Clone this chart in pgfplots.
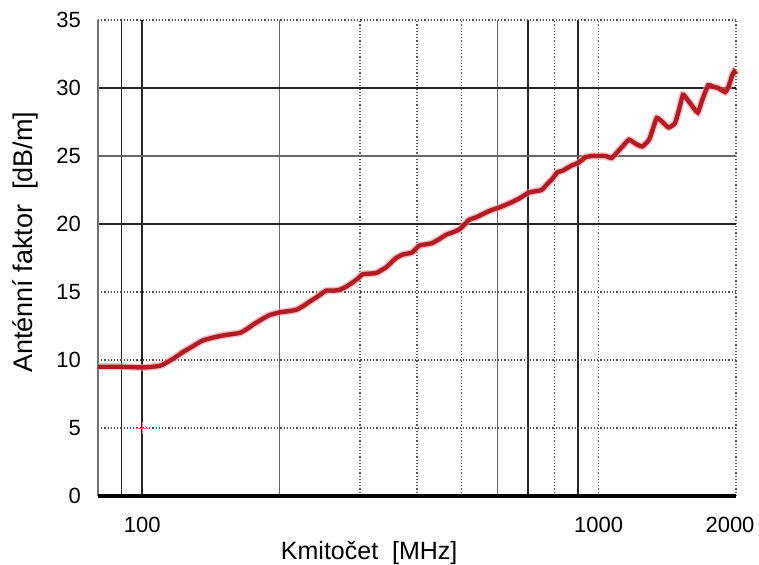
\documentclass[border=0pt]{standalone}
\usepackage{pgfplots}
\pgfplotsset{compat=1.18}
\usepackage{pgfplotstable}
\usepackage{fontspec}
\setmainfont{Liberation Sans}
\definecolor{curve}{RGB}{178,28,38}
\definecolor{glow}{RGB}{240,150,150}
\pgfplotstableread{
f v
80 9.5
90 9.5
100 9.45
105 9.5
110 9.6
117 10.1
123 10.6
129 11.0
135 11.4
141 11.6
150 11.8
157 11.9
164 12.0
170 12.3
175 12.6
183 13.0
190 13.3
200 13.5
210 13.6
218 13.7
226 14.0
233 14.3
243 14.7
253 15.1
262 15.1
270 15.15
280 15.4
289 15.7
297 16.0
304 16.3
315 16.35
326 16.4
334 16.6
342 16.8
352 17.2
360 17.5
372 17.75
390 17.9
404 18.4
418 18.5
432 18.6
448 18.9
463 19.2
480 19.4
495 19.6
508 19.95
520 20.3
540 20.5
555 20.7
580 21.0
604 21.2
625 21.4
645 21.6
672 21.9
702 22.3
725 22.4
750 22.5
770 22.9
791 23.3
812 23.8
832 23.9
852 24.1
873 24.3
903 24.5
935 24.9
965 25.0
1000 25.0
1035 25.0
1067 24.85
1100 25.3
1135 25.8
1166 26.2
1205 25.9
1247 25.7
1290 26.2
1315 27.0
1341 27.8
1380 27.5
1423 27.1
1469 27.4
1500 28.4
1530 29.5
1560 29.2
1594 28.8
1649 28.2
1690 29.2
1738 30.2
1780 30.1
1826 30.0
1894 29.7
1920 30.0
1940 30.4
1960 30.9
1981 31.2
2000 31.0
}\antenna
\begin{document}
\begin{tikzpicture}
\useasboundingbox (-49pt,-34.5pt) rectangle (330.5pt,248pt);
\begin{axis}[
  xmode=log,
  width=319pt, height=238pt, scale only axis,
  xmin=80, xmax=2000, ymin=0, ymax=35,
  xtick={100,1000},
  xticklabels={100,1000},
  extra x ticks={2000},
  extra x tick labels={2000},
  extra x tick style={xticklabel style={xshift=-3pt}},
  ytick={0,5,10,15,20,25,30,35},
  minor xtick={},
  major tick length=0pt, minor tick length=0pt,
  axis line style={draw=none},
  tick label style={font=\fontsize{11}{13}\selectfont},
  /pgf/number format/assume math mode=true,
  xticklabel style={yshift=-7pt},
  yticklabel style={xshift=-5pt},
  xlabel={Kmitočet\ \ [MHz]},
  ylabel={Anténní faktor\ \ [dB/m]},
  xlabel style={font=\fontsize{12.5}{14}\selectfont, at={(axis description cs:0.425,0)}, anchor=center, yshift=-28.5pt},
  ylabel style={font=\fontsize{13.5}{15}\selectfont, at={(axis description cs:-0.114,0.533)}, anchor=center},
  clip=false,
]
% grid lines
\foreach \x in {90,100,700,900} {
  \edef\tmp{\noexpand\draw[black!85, line width=0.8pt] (axis cs:\x,0) -- (axis cs:\x,35);}\tmp
}
\foreach \x in {200,600} {
  \edef\tmp{\noexpand\draw[black!60, line width=0.6pt] (axis cs:\x,0) -- (axis cs:\x,35);}\tmp
}
\foreach \x in {300,400,500,800,1000,2000} {
  \edef\tmp{\noexpand\draw[black!65, line width=0.6pt, densely dotted] (axis cs:\x,0) -- (axis cs:\x,35);}\tmp
}
\foreach \y in {20,30} {
  \edef\tmp{\noexpand\draw[black!85, line width=0.8pt] (axis cs:80,\y) -- (axis cs:2000,\y);}\tmp
}
\draw[black!60, line width=0.6pt] (axis cs:80,25) -- (axis cs:2000,25);
\foreach \y in {5,10,15,35} {
  \edef\tmp{\noexpand\draw[black!70, line width=0.6pt, densely dotted] (axis cs:80,\y) -- (axis cs:2000,\y);}\tmp
}
\draw[black!55, line width=0.6pt] (axis cs:80,0) -- (axis cs:80,35);
\draw[black, line width=2pt] (axis cs:80,0) -- (axis cs:2000,0);
\addplot[glow, line width=3.6pt, opacity=0.6, smooth, tension=0.3] table[x=f, y=v] {\antenna};
\addplot[curve, line width=2.2pt, smooth, tension=0.3] table[x=f, y=v] {\antenna};
\addplot[only marks, mark=+, mark size=3pt, red!55] coordinates {(100,5)};
\end{axis}
\end{tikzpicture}
\end{document}
